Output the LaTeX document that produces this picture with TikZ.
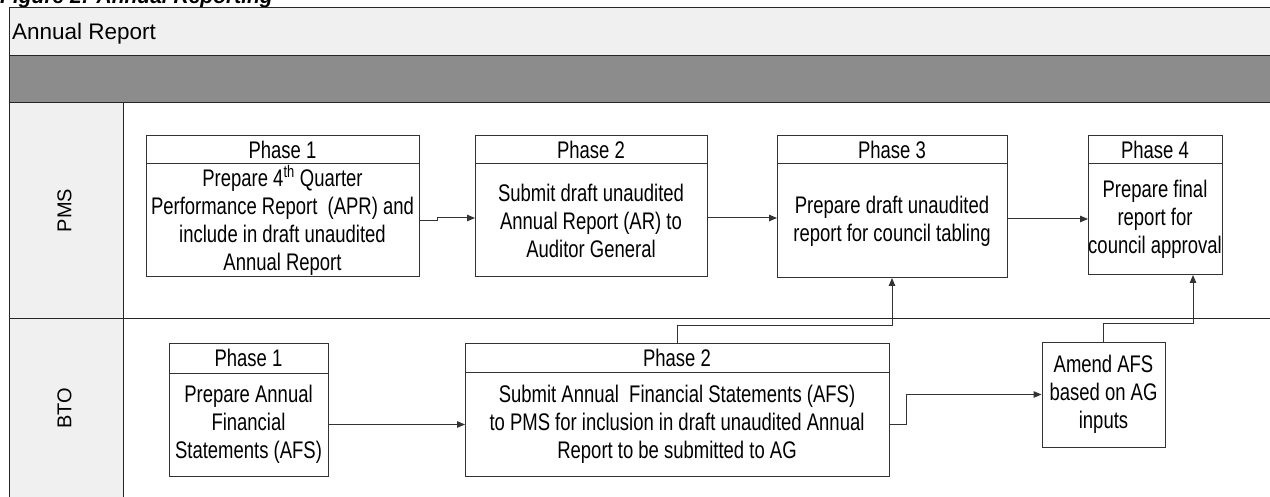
\documentclass[tikz,border=0pt]{standalone}
\usepackage{fontspec}
\setmainfont{Liberation Sans}
\newfontfamily\narrowsans{Liberation Sans}[FakeStretch=0.77]
\usetikzlibrary{arrows.meta}
\definecolor{lanegray}{HTML}{F0F0F0}
\definecolor{bandgray}{HTML}{8C8C8C}
\definecolor{boxline}{HTML}{333333}
\tikzset{
  frame/.style={draw=black!85, line width=1pt},
  boxfont/.style={font=\narrowsans\fontsize{24}{28}\selectfont},
  hdr/.style={draw=boxline, fill=white, line width=1pt, inner sep=0pt, outer sep=0pt, boxfont},
  body/.style={draw=boxline, fill=white, line width=1pt, inner sep=0pt, outer sep=0pt, align=center, anchor=north, boxfont},
  lanelabel/.style={rotate=90, inner sep=0pt, font=\fontsize{20}{24}\selectfont},
  arr/.style={draw=boxline, line width=1pt, -{Triangle[length=8pt,width=6.5pt]}},
  link/.style={draw=boxline, line width=1pt}
}
\begin{document}
\begin{tikzpicture}[x=1pt,y=-1pt]
\useasboundingbox (0,0) rectangle (1270,497);
\fill[white] (0,0) rectangle (1270,497);

% caption above the frame
\node[anchor=base west, inner sep=0pt, font=\bfseries\itshape\fontsize{21}{25}\selectfont] (cap) at (0,3.5) {Figure 2: Annual Reporting};

% pool frame, title band and grey band
\filldraw[frame, fill=lanegray] (9,8) rectangle (1290,56);
\filldraw[frame, fill=bandgray] (9,56) rectangle (1290,103);
\node[anchor=base west, inner sep=0pt, font=\fontsize{22.5}{27}\selectfont] (title) at (12,39.5) {Annual Report};

% lanes
\fill[lanegray] (9,103) rectangle (123,520);
\draw[frame] (9,103) rectangle (1290,318.5);
\draw[frame] (9,318.5) rectangle (1290,520);
\draw[frame] (123,103) -- (123,520);
\node[lanelabel] (pms) at (64.5,210.5) {PMS};
\node[lanelabel] (bto) at (64.5,408) {BTO};

% PMS lane
\node[hdr, minimum width=273pt, minimum height=28pt] (p1h) at (282.5,150) {Phase 1};
\node[body, minimum width=273pt, minimum height=113pt] (p1b) at (p1h.south)
  {Prepare 4\textsuperscript{th} Quarter\\Performance Report\ \ (APR) and\\include in draft unaudited\\Annual Report};

\node[hdr, minimum width=232pt, minimum height=28pt] (p2h) at (591,150) {Phase 2};
\node[body, minimum width=232pt, minimum height=113pt] (p2b) at (p2h.south)
  {Submit draft unaudited\\Annual Report (AR) to\\Auditor General};

\node[hdr, minimum width=230pt, minimum height=28pt] (p3h) at (892,150) {Phase 3};
\node[body, minimum width=230pt, minimum height=114pt] (p3b) at (p3h.south)
  {Prepare draft unaudited\\report for council tabling};

\node[hdr, minimum width=134pt, minimum height=28pt] (p4h) at (1155,150) {Phase 4};
\node[body, minimum width=134pt, minimum height=111pt] (p4b) at (p4h.south)
  {Prepare final\\report for\\council approval};

% BTO lane
\node[hdr, minimum width=159pt, minimum height=30pt] (b1h) at (248.5,358) {Phase 1};
\node[body, minimum width=159pt, minimum height=103pt] (b1b) at (b1h.south)
  {Prepare Annual\\Financial\\Statements (AFS)};

\node[hdr, minimum width=424pt, minimum height=29pt] (b2h) at (677,357.5) {Phase 2};
\node[body, minimum width=424pt, minimum height=104pt] (b2b) at (b2h.south)
  {Submit Annual\ \ Financial Statements (AFS)\\to PMS for inclusion in draft unaudited Annual\\Report to be submitted to AG};

\node[draw=boxline, fill=white, line width=1pt, inner sep=0pt, align=center, boxfont,
      minimum width=123pt, minimum height=105pt] (amend) at (1103.5,394.5)
  {Amend AFS\\based on AG\\inputs};

% flow within PMS
\draw[arr] (p1b.east) -- ++(18,0) |- ([yshift=2.5pt]p2b.west);
\draw[arr] ([yshift=2.5pt]p2b.east) -- ([yshift=2.5pt]p2b.east -| p3b.west);
\draw[arr] ([yshift=2pt]p3b.east) -- ([yshift=2pt]p3b.east -| p4b.west);

% flow within BTO
\draw[arr] (b1b.east) -- (b1b.east -| b2b.west);
\draw[arr] (b2b.east) -- ++(17,0) |- (amend.west);

% hand-offs from BTO to PMS
\draw[arr] (b2h.north) -- ++(0,-17.5) -| (p3b.south);
\draw[arr] (amend.north) -- ++(0,-18) -| ([xshift=38pt]p4b.south);
\end{tikzpicture}
\end{document}
